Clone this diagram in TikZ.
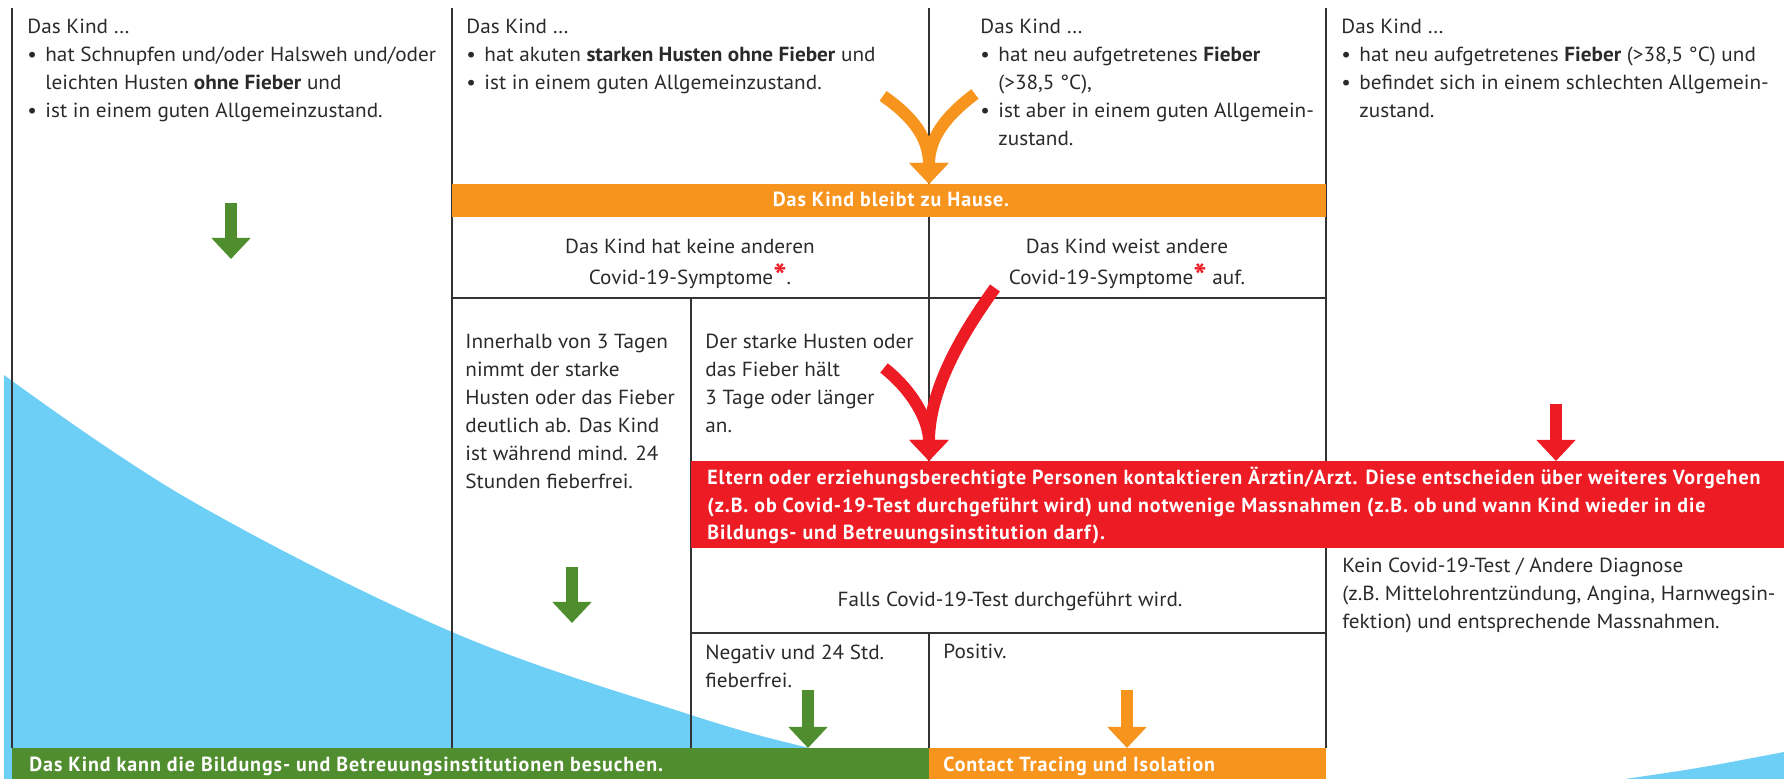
\documentclass[tikz,border=0pt]{standalone}
\usepackage{fontspec}
\setmainfont[FakeStretch=1.04]{PT Sans}
\newfontfamily\barfont[FakeStretch=0.98,LetterSpace=4.5]{PT Sans}
\usetikzlibrary{arrows.meta}
\definecolor{orangeC}{HTML}{F7941D}
\definecolor{redC}{HTML}{ED1C24}
\definecolor{greenC}{HTML}{508D2F}
\definecolor{blueC}{HTML}{6DCFF6}
\definecolor{lineC}{HTML}{333333}
\definecolor{textC}{HTML}{2A2A2A}
\newcommand\bodyfs{\fontsize{10.2}{14}\selectfont}
\newcommand\bul{\makebox[9pt][l]{\textbullet}}
\newcommand\ind{\hspace*{9pt}}
\newcommand\redast{{\color{redC}\bfseries\fontsize{17}{17}\selectfont\raisebox{-2pt}{*}}}
\tikzset{
  txt/.style={anchor=north west, inner sep=0pt, align=left, text=textC, font=\bodyfs},
  ctxt/.style={anchor=north, inner sep=0pt, align=center, text=textC, font=\bodyfs},
  bartxt/.style={inner sep=0pt, text=white, font=\barfont\bfseries\fontsize{10.2}{13.75}\selectfont},
  rule/.style={draw=lineC, line width=0.75pt},
  fatarrow/.style={line width=6pt, -{Triangle[width=19pt,length=10.5pt]}},
}
\begin{document}
\begin{tikzpicture}[x=0.5pt,y=-0.5pt]
\useasboundingbox (0,0) rectangle (1784,779);
% blue waves
\fill[blueC] plot[smooth, tension=0.6] coordinates {(4,375) (190,500) (452,632) (691,715) (809,748) (860,758)} -- (860,779) -- (4,779) -- cycle;
\fill[blueC] (1625,779) .. controls (1700,768) .. (1784,752) -- (1784,779) -- cycle;
% rules
\draw[rule] (12,8) -- (12,748);
\draw[rule] (452,8) -- (452,748);
\draw[rule] (929,8) -- (929,461);
\draw[rule] (929,633) -- (929,748);
\draw[rule] (1326,8) -- (1326,748);
\draw[rule] (691,298) -- (691,748);
\draw[rule] (452,298) -- (1326,298);
\draw[rule] (691,633) -- (1326,633);
% bars
\fill[orangeC] (452,184) rectangle (1326,217);
\fill[redC] (691,461) rectangle (1784,548);
\fill[greenC] (12,748) rectangle (929,779);
\fill[orangeC] (929,748) rectangle (1326,779);
% bar texts
\node[bartxt, anchor=base] (hause) at (891,207) {Das Kind bleibt zu Hause.};
\node[bartxt, anchor=north west, align=left] (arzt) at (707,465) {\strut Eltern oder erziehungsberechtigte Personen kontaktieren Ärztin/Arzt. Diese entscheiden über weiteres Vorgehen\\
(z.B. ob Covid-19-Test durchgeführt wird) und notwenige Massnahmen (z.B. ob und wann Kind wieder in die\\
Bildungs- und Betreuungsinstitution darf).};
\node[bartxt, anchor=base west] (besuchen) at (29,772) {Das Kind kann die Bildungs- und Betreuungsinstitutionen besuchen.};
\node[bartxt, anchor=base west] (isolation) at (943,772) {Contact Tracing und Isolation};
% column texts
\node[txt] (c1) at (27,13.4) {\strut Das Kind …\\
\bul hat Schnupfen und/oder Halsweh und/oder\\
\ind leichten Husten \textbf{ohne Fieber} und\\
\bul ist in einem guten Allgemeinzustand.};
\node[txt] (c2) at (466,13.4) {\strut Das Kind …\\
\bul hat akuten \textbf{starken Husten ohne Fieber} und\\
\bul ist in einem guten Allgemeinzustand.};
\node[txt] (c3) at (980,13.4) {\strut Das Kind …\\
\bul hat neu aufgetretenes \textbf{Fieber}\\
\ind (>38,5 °C),\\
\bul ist aber in einem guten Allgemein-\\
\ind zustand.};
\node[txt] (c4) at (1341,13.4) {\strut Das Kind …\\
\bul hat neu aufgetretenes \textbf{Fieber} (>38,5 °C) und\\
\bul befindet sich in einem schlechten Allgemein-\\
\ind zustand.};
\node[ctxt] (keine) at (690,233.4) {\strut Das Kind hat keine anderen\\Covid-19-Symptome\redast.};
\node[ctxt] (andere) at (1127,233.4) {\strut Das Kind weist andere\\Covid-19-Symptome\redast{} auf.};
\node[txt] (innerhalb) at (465,328.4) {\strut Innerhalb von 3 Tagen\\nimmt der starke\\Husten oder das Fieber\\deutlich ab. Das Kind\\ist während mind. 24\\Stunden fieberfrei.};
\node[txt] (laenger) at (705,328.4) {\strut Der starke Husten oder\\das Fieber hält\\3 Tage oder länger\\an.};
\node[inner sep=0pt, text=textC, font=\bodyfs, anchor=base] (falls) at (1010,607) {Falls Covid-19-Test durchgeführt wird.};
\node[txt] (kein) at (1342,552.4) {\strut Kein Covid-19-Test / Andere Diagnose\\(z.B. Mittelohrentzündung, Angina, Harnwegsin-\\fektion) und entsprechende Massnahmen.};
\node[txt] (negativ) at (705,639.4) {\strut Negativ und 24 Std.\\fieberfrei.};
\node[inner sep=0pt, text=textC, font=\bodyfs, anchor=base west] (positiv) at (943,659) {Positiv.};
% arrow coordinates
\coordinate (oL) at (883,96);
\coordinate (oR) at (975,94);
\coordinate (oT) at (929,184);
\coordinate (rR) at (995,288);
\coordinate (rL) at (884,368);
\coordinate (rT) at (929,461);
% curved arrows
\draw[fatarrow, orangeC] (oL) .. controls (915,118) and (929,140) .. (oT);
\draw[fatarrow, orangeC] (oR) .. controls (943,118) and (929,140) .. (oT);
\draw[fatarrow, redC] (rR) .. controls (950,350) and (929,400) .. (rT);
\draw[fatarrow, redC] (rL) .. controls (912,390) and (929,420) .. (rT);
% straight arrows
\coordinate (g1a) at (231,203); \coordinate (g1b) at (231,259);
\coordinate (g2a) at (572,567); \coordinate (g2b) at (572,623);
\coordinate (g3a) at (808,690); \coordinate (g3b) at (808,748);
\coordinate (o2a) at (1127,690); \coordinate (o2b) at (1127,748);
\coordinate (r2a) at (1556,404); \coordinate (r2b) at (1556,461);
\draw[fatarrow, greenC] (g1a) -- (g1b);
\draw[fatarrow, greenC] (g2a) -- (g2b);
\draw[fatarrow, greenC] (g3a) -- (g3b);
\draw[fatarrow, orangeC] (o2a) -- (o2b);
\draw[fatarrow, redC] (r2a) -- (r2b);
\end{tikzpicture}
\end{document}
